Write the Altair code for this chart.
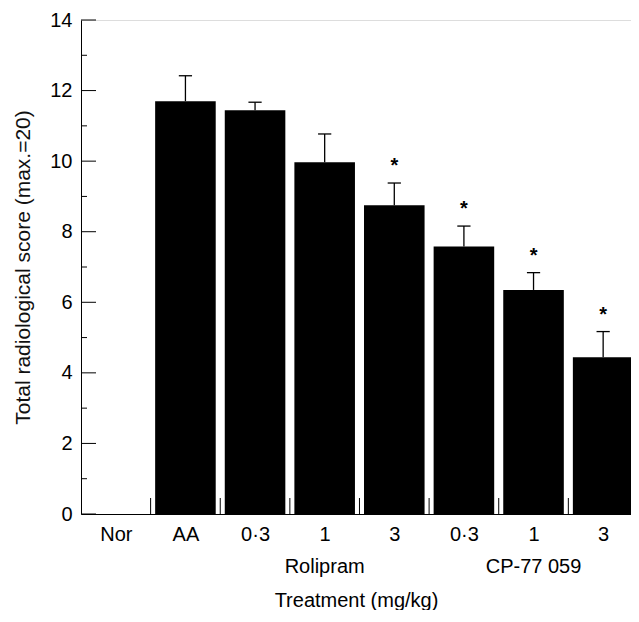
import altair as alt
import pandas as pd

# ---- data ----
categories = ["Nor", "AA", "0·3", "1", "3", "0·3", "1", "3"]
means = [0.0, 11.70, 11.44, 9.97, 8.75, 7.58, 6.35, 4.44]
err_top = [0.0, 12.42, 11.67, 10.77, 9.38, 8.16, 6.84, 5.17]
significant = [False, False, False, False, True, True, True, True]
groups = ["Rolipram", "CP-77 059"]
group_slot = [3, 6]
y_major = [0, 2, 4, 6, 8, 10, 12, 14]
y_minor = [1, 3, 5, 7, 9, 11, 13]
boundaries = [1, 2, 3, 4, 5, 6, 7]

W, H = 550, 494
FONT = "Liberation Sans"
FS = 20
BAR_PAD = 0.065
CAP = 0.095

rows = []
for i, (c, m, e, s) in enumerate(zip(categories, means, err_top, significant)):
    rows.append({
        "cat": c, "center": i + 0.5, "x0": i + BAR_PAD, "x1": i + 1 - BAR_PAD,
        "mean": m, "err": e, "capL": i + 0.5 - CAP, "capR": i + 0.5 + CAP,
        "sig": s,
    })
df = pd.DataFrame(rows)
bars_df = df[df["mean"] > 0]
sig_df = df[df["sig"]]
grp_df = pd.DataFrame({"g": groups, "x": [s + 0.5 for s in group_slot]})
maj_df = pd.DataFrame({"v": y_major})
min_df = pd.DataFrame({"v": y_minor})
bnd_df = pd.DataFrame({"b": boundaries})

label_arr = "[" + ",".join("'" + c + "'" for c in categories) + "]"

xscale = alt.Scale(domain=[0, 7.9], nice=False, zero=False)
yscale = alt.Scale(domain=[0, 14], nice=False)

x_axis = alt.Axis(
    values=[i + 0.5 for i in range(len(categories))],
    labelExpr=label_arr + "[floor(datum.value)]",
    ticks=False, grid=False, domain=True, domainColor="black",
    labelFontSize=FS, labelFont=FONT, labelColor="black", labelPadding=10,
    title="Treatment (mg/kg)", titleFontSize=FS, titleFont=FONT,
    titleFontWeight="normal", titleColor="black", titlePadding=46,
)
y_axis = alt.Axis(
    values=y_major, ticks=False, grid=False, domain=True, domainColor="black",
    labelFontSize=FS, labelFont=FONT, labelColor="black", labelPadding=9,
    title="Total radiological score (max.=20)", titleFontSize=21, titleFont=FONT,
    titleFontWeight="normal", titleColor="#111111", titlePadding=16,
)

base = alt.Chart(bars_df)

bars = base.mark_bar(color="black", clip=True).encode(
    x=alt.X("x0:Q", scale=xscale, axis=x_axis),
    x2="x1:Q",
    y=alt.Y("mean:Q", scale=yscale, axis=y_axis),
    y2=alt.datum(0),
)
err_line = base.mark_rule(color="black", strokeWidth=1.3).encode(
    x="center:Q", y="mean:Q", y2="err:Q"
)
err_cap = base.mark_rule(color="black", strokeWidth=1.3).encode(
    x="capL:Q", x2="capR:Q", y="err:Q"
)
stars = alt.Chart(sig_df).mark_text(
    text="*", font=FONT, fontSize=20, fontWeight="bold", color="black",
    baseline="alphabetic", dy=-11,
).encode(x="center:Q", y="err:Q")

maj = alt.Chart(maj_df).mark_rule(color="black").encode(
    y="v:Q", x=alt.value(0), x2=alt.value(15)
)
mnr = alt.Chart(min_df).mark_rule(color="black").encode(
    y="v:Q", x=alt.value(0), x2=alt.value(6)
)
bnd = alt.Chart(bnd_df).mark_rule(color="black").encode(
    x="b:Q", y=alt.value(H), y2=alt.value(H - 16)
)
grp = alt.Chart(grp_df).mark_text(
    font=FONT, fontSize=FS, color="black", baseline="middle"
).encode(x="x:Q", y=alt.value(H + 53), text="g:N")

chart = alt.layer(bars, err_line, err_cap, stars, maj, mnr, bnd, grp).properties(
    width=W, height=H,
    padding={"left": 4, "top": 2, "right": 0, "bottom": 0},
).configure_view(stroke=None).configure(background="white")

chart.save("out.html", embed_options={"renderer": "svg", "actions": False})
